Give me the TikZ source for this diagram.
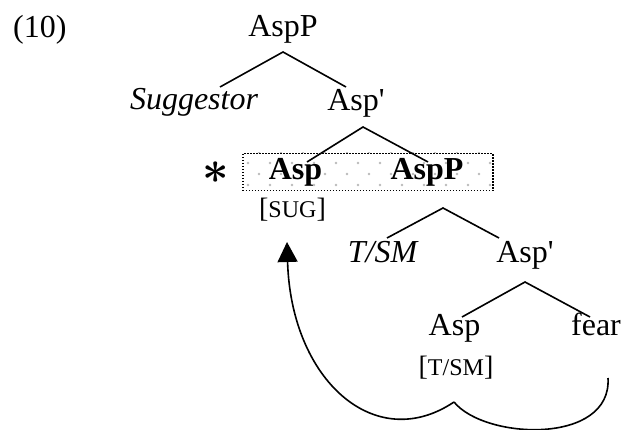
\documentclass[tikz,border=0pt]{standalone}
\usepackage{fontspec}
\usepackage{graphicx}
\setmainfont{Liberation Serif}
\usetikzlibrary{arrows.meta}
\newcommand{\bigf}{\fontsize{32}{38}\selectfont}
\newcommand{\smcap}[1]{{\fontsize{28}{30}\selectfont[}{\fontsize{24}{28}\selectfont #1}{\fontsize{28}{30}\selectfont]}}
\tikzset{
  txt/.style={font=\bigf, inner sep=0pt, anchor=base},
  feat/.style={inner sep=0pt, anchor=base},
  branch/.style={line width=1.6pt},
  movebox/.style={line width=1.5pt, dash pattern=on 1.5pt off 1.5pt},
  curve/.style={line width=1.6pt},
}
\begin{document}
\begin{tikzpicture}[x=1pt,y=-1pt]
\useasboundingbox (0,0) rectangle (628,430);
% dotted shading of the box
\begin{scope}
\clip (242,153) rectangle (492,190);
\foreach \yy in {163,185}{\foreach \k in {-6,...,8}{\fill[gray!55] (358+22*\k,\yy) circle (1.4);}}
\foreach \yy in {152,174}{\foreach \k in {-6,...,8}{\fill[gray!55] (347+22*\k,\yy) circle (1.4);}}
\end{scope}
\node[draw, movebox, inner sep=0pt, minimum width=250pt, minimum height=37pt, anchor=north west] (box) at (242,153) {};
% nodes
\node[txt, anchor=base west] (ex) at (13,38) {(10)};
\node[txt] (root) at (283,37) {AspP};
\node[txt] (sugg) at (194,110) {\itshape Suggestor};
\node[txt] (asp1) at (356,111) {Asp\textquotesingle};
\node[inner sep=0pt] (star) at (216,173) {\scalebox{4.6}{\boldmath$\ast$}};
\node[txt] (asp2) at (295.5,180) {\bfseries Asp};
\node[txt] (aspP2) at (427,180) {\bfseries AspP};
\node[feat] (sug) at (292.5,217) {\smcap{SUG}};
\node[txt] (tsm) at (382.5,262) {\itshape T/SM};
\node[txt] (asp3) at (525,262) {Asp\textquotesingle};
\node[txt] (asp4) at (454.5,335) {Asp};
\node[txt] (fear) at (596,335) {fear};
\node[feat] (tsm2) at (456,375) {\smcap{T/SM}};
% branch points
\coordinate (r0) at (283,52);  \coordinate (r1) at (220,87);  \coordinate (r2) at (346,87);
\coordinate (a0) at (363,127); \coordinate (a1) at (307,162); \coordinate (a2) at (428,162);
\coordinate (b0) at (443,208); \coordinate (b1) at (387,238); \coordinate (b2) at (499,238);
\coordinate (c0) at (525,282); \coordinate (c1) at (462,317); \coordinate (c2) at (590,317);
\draw[branch] (r1) -- (r0) -- (r2);
\draw[branch] (a1) -- (a0) -- (a2);
\draw[branch] (b1) -- (b0) -- (b2);
\draw[branch] (c1) -- (c0) -- (c2);
% movement brace and arrow
\coordinate (cusp) at (454,402);
\coordinate (tip) at (287,242);
\coordinate (rend) at (608,378);
\draw[curve, -{Triangle[width=20pt,length=20pt]}] (cusp) .. controls (375,455) and (291,380) .. (tip);
\draw[curve] (cusp) .. controls (485,440) and (612,445) .. (rend);
\end{tikzpicture}
\end{document}
